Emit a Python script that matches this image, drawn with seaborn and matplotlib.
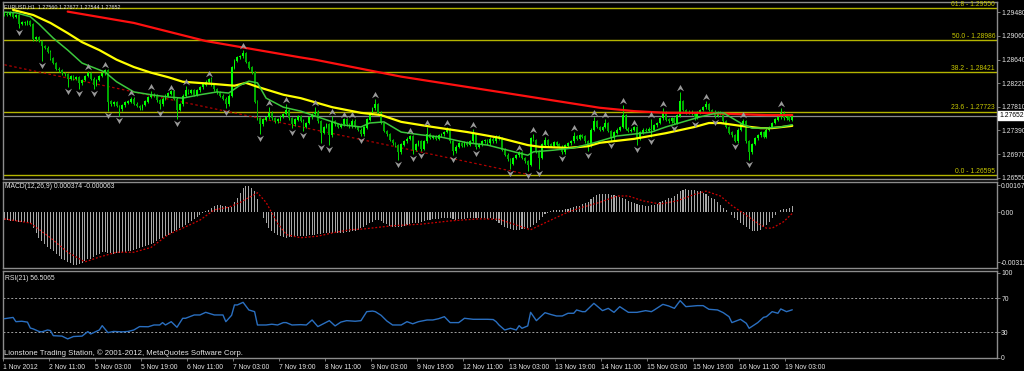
import numpy as np
import matplotlib
matplotlib.use("Agg")
import matplotlib.pyplot as plt
from matplotlib.path import Path
import matplotlib.transforms as mtrans
import seaborn as sns

# ---------------- data (prices in 1e-4 units above 1.2000) ----------------
first_open = 944
close_v = [
    945, 943, 947, 940, 942, 927, 930, 928, 932, 926,
    900, 903, 897, 888, 885, 878, 866, 858, 848, 845,
    840, 838, 830, 835, 830, 833, 822, 828, 835, 840,
    830, 820, 828, 835, 840, 845, 790, 785, 788, 782,
    776, 783, 788, 790, 795, 786, 782, 778, 784, 790,
    798, 802, 800, 792, 785, 795, 800, 804, 808, 795,
    775, 785, 800, 810, 805, 810, 802, 810, 815, 820,
    825, 830, 820, 812, 806, 800, 795, 785, 800, 850,
    862, 868, 870, 875, 860, 850, 842, 790, 760, 750,
    758, 762, 770, 760, 755, 758, 763, 768, 775, 760,
    750, 758, 764, 756, 745, 752, 762, 768, 772, 755,
    735, 745, 750, 730, 755, 750, 745, 750, 758, 750,
    746, 756, 745, 740, 732, 744, 758, 768, 778, 785,
    770, 752, 738, 732, 722, 716, 712, 700, 714, 720,
    724, 728, 705, 714, 720, 706, 720, 732, 726, 728,
    724, 730, 732, 736, 740, 720, 702, 710, 716, 712,
    718, 714, 720, 732, 710, 714, 720, 722, 716, 724,
    720, 728, 724, 705, 696, 688, 680, 690, 695, 700,
    690, 684, 678, 725, 722, 702, 690, 714, 722, 714,
    712, 718, 714, 710, 700, 712, 716, 720, 728, 724,
    730, 728, 720, 712, 740, 755, 745, 740, 745, 752,
    738, 725, 735, 740, 745, 765, 742, 738, 740, 745,
    725, 735, 740, 738, 742, 740, 748, 752, 760, 770,
    758, 755, 760, 752, 765, 790, 775, 770, 772, 768,
    762, 770, 775, 780, 785, 775, 772, 765, 770, 768,
    755, 745, 735, 730, 720, 740, 750, 755, 720, 700,
    715, 725, 730, 735, 728, 740, 745, 752, 758, 762,
    770, 760, 765, 758, 765.2]
default_wick = 2.5
wick_up = {29: 4, 35: 3, 44: 3, 51: 7, 58: 2, 63: 8, 71: 2, 83: 6, 92: 10, 98: 11,
           108: 8, 114: 9, 118: 2, 121: 3, 129: 10, 141: 3, 147: 13, 154: 5, 163: 9,
           179: 2, 184: 8, 188: 5, 198: 8, 205: 8, 209: 7, 215: 19, 219: 2, 225: 17,
           229: 9, 235: 17, 244: 6, 257: 4, 270: 9}
wick_dn = {5: 7, 13: 26, 22: 14, 26: 10, 31: 8, 36: 17, 40: 12, 54: 8, 60: 16, 77: 7,
           89: 18, 100: 7, 104: 7, 110: 18, 113: 17, 124: 3, 137: 14, 142: 8, 145: 4,
           156: 7, 164: 4, 176: 10, 182: 11, 186: 20, 194: 3, 203: 10, 211: 5, 220: 12,
           225: 13, 233: 2, 240: 5, 247: 5, 254: 2, 259: 14}

up_idx = [29, 35, 44, 51, 58, 63, 71, 83, 92, 98, 108, 114, 118, 121, 129, 141, 147, 154,
          163, 179, 184, 188, 198, 205, 209, 215, 219, 225, 229, 235, 244, 257, 270]
up_val = [851, 855, 805, 816, 814, 825, 839, 888, 787, 793, 787, 771, 766, 766, 802, 738,
          752, 752, 748, 708, 740, 734, 743, 770, 766, 791, 752, 766, 786, 814, 798, 766, 786]
dn_idx = [5, 13, 22, 26, 31, 36, 40, 54, 60, 77, 89, 100, 104, 110, 113, 124, 137, 142,
          145, 156, 164, 176, 182, 186, 194, 203, 211, 220, 225, 233, 240, 247, 254, 259]
dn_val = [913, 855, 809, 805, 805, 766, 757, 770, 752, 771, 725, 736, 731, 710, 706, 722,
          679, 690, 695, 688, 699, 663, 660, 663, 690, 695, 713, 706, 720, 743, 750, 753, 711, 679]

fast_idx = [0, 4, 9, 12, 17, 22, 27, 35, 39, 45, 51, 57, 62, 68, 74, 78, 82, 85, 88, 91,
            97, 103, 110, 117, 124, 127, 132, 138, 145, 152, 161, 168, 175, 182, 184, 191,
            198, 205, 213, 225, 230, 236, 242, 248, 250, 253, 257, 260, 265, 270, 274]
fast_val = [948, 947, 940, 927, 902, 881, 858, 842, 825, 807, 802, 798, 796, 802, 807, 805,
            819, 826, 823, 796, 780, 773, 761, 749, 745, 752, 754, 736, 731, 727, 717, 713,
            704, 695, 701, 704, 708, 717, 729, 736, 745, 754, 763, 770, 770, 761, 749, 743,
            743, 745, 749]
mid_idx = [3, 10, 16, 22, 27, 33, 39, 45, 51, 57, 62, 73, 80, 84, 88, 97, 103, 114, 124,
           131, 138, 149, 161, 172, 182, 186, 196, 203, 207, 219, 230, 240, 245, 249, 256,
           263, 267, 274]
mid_val = [952, 943, 929, 911, 895, 881, 864, 851, 841, 833, 825, 821, 818, 823, 816, 802,
           796, 780, 770, 766, 754, 745, 736, 726, 713, 710, 708, 711, 717, 724, 734, 745,
           752, 752, 747, 743, 743, 747]
slow_idx = [22, 45, 70, 103, 108, 138, 172, 207, 219, 230, 242, 253, 265, 274]
slow_val = [949, 929, 897, 868, 864, 834, 807, 779, 773, 770, 770, 768, 766, 766]

trend_idx = [0, 183]
trend_val = [855, 660]

fib_levels = [1.29550, 1.28986, 1.28421, 1.27723, 1.26595]
fib_names = ["61.8", "50.0", "38.2", "23.6", "0.0"]
last_price = 1.27652

# MACD main (histogram) and signal, in 1e-5 units
macd_hist = [
    -50, -52, -55, -55, -58, -60, -62, -62, -65, -70,
    -100, -130, -160, -180, -200, -215, -230, -245, -260, -275,
    -290, -300, -310, -320, -328, -330, -325, -315, -305, -295,
    -290, -280, -270, -260, -250, -248, -252, -255, -258, -255,
    -252, -250, -248, -245, -240, -235, -228, -222, -215, -210,
    -205, -198, -190, -180, -170, -160, -150, -140, -128, -118,
    -110, -100, -90, -80, -68, -55, -42, -30, -18, -5,
    5, 15, 25, 35, 42, 45, 40, 35, 30, 30,
    60, 90, 120, 150, 160, 160, 150, 130, 80, 0,
    -40, -70, -100, -120, -130, -140, -150, -155, -160, -158,
    -155, -152, -150, -150, -148, -150, -145, -140, -140, -135,
    -135, -130, -132, -130, -128, -130, -132, -130, -128, -125,
    -125, -120, -115, -110, -100, -90, -80, -70, -60, -52,
    -50, -55, -65, -75, -85, -90, -95, -95, -90, -85,
    -80, -75, -70, -68, -65, -60, -55, -50, -48, -45,
    -45, -42, -40, -40, -38, -40, -45, -48, -46, -44,
    -42, -40, -38, -36, -35, -36, -38, -40, -42, -40,
    -45, -55, -70, -80, -90, -100, -105, -110, -112, -110,
    -108, -105, -100, -90, -80, -70, -50, -30, -15, -5,
    5, 10, 12, 15, 15, 18, 20, 25, 30, 35,
    40, 48, 55, 65, 80, 95, 105, 110, 112, 110,
    110, 108, 105, 100, 95, 88, 80, 70, 60, 55,
    50, 45, 42, 40, 40, 42, 45, 50, 60, 70,
    78, 85, 90, 100, 115, 130, 140, 142, 140, 138,
    135, 132, 128, 120, 112, 100, 90, 80, 65, 45,
    25, 10, 0, -20, -35, -50, -65, -80, -95, -105,
    -115, -120, -118, -110, -95, -80, -60, -40, -20, 0,
    10, 18, 22, 28, 37]
sig_idx = [0, 9, 16, 22, 28, 33, 39, 45, 51, 57, 62, 68, 73, 78, 82, 88, 91, 95, 98, 103,
           109, 114, 120, 125, 135, 145, 155, 165, 172, 183, 190, 196, 201, 207, 213, 217,
           222, 228, 234, 240, 244, 249, 253, 258, 262, 265, 267, 271, 274]
sig_val = [-43, -68, -160, -250, -310, -280, -250, -250, -220, -140, -100, -50, 14, 30, 60,
           120, 60, -70, -140, -160, -150, -130, -110, -105, -85, -75, -55, -42, -45, -110,
           -50, 0, 30, 60, 100, 100, 70, 50, 70, 110, 130, 100, 40, -20, -70, -100, -100,
           -60, -8]

rsi_idx = [0, 3, 4, 6, 8, 9, 10, 12, 13, 15,
           16, 17, 20, 22, 24, 27, 29, 30, 33, 34,
           36, 38, 41, 43, 45, 47, 50, 52, 54, 55,
           56, 58, 60, 62, 63, 66, 68, 70, 73, 76,
           77, 79, 80, 81, 83, 85, 87, 88, 91, 93,
           95, 97, 98, 100, 103, 105, 107, 109, 113, 115,
           117, 119, 122, 124, 126, 128, 129, 131, 133, 135,
           138, 140, 142, 144, 147, 149, 151, 153, 155, 158,
           160, 163, 168, 170, 171, 172, 174, 176, 178, 179,
           180, 182, 183, 185, 188, 190, 192, 194, 196, 198,
           199, 201, 202, 205, 208, 210, 212, 214, 217, 220,
           223, 225, 226, 229, 231, 233, 235, 237, 241, 243,
           245, 248, 250, 252, 253, 256, 258, 259, 262, 264,
           265, 267, 269, 270, 272, 274]
rsi_val = [46, 47.5, 42.5, 43, 42, 35, 34, 31, 30.5, 32.7,
           32, 26, 25.5, 22.2, 25, 25.5, 30.8, 28, 32.7, 37.8,
           29.6, 31, 30.5, 31, 32.7, 36.7, 36.5, 38.6, 38.6, 41.4,
           38.6, 42.5, 35.9, 46.5, 46.5, 50.4, 50.4, 53.5, 50.4, 50.4,
           42.5, 50, 62.2, 62.2, 65.3, 56.3, 54.3, 38.6, 38.6, 39.5,
           38.6, 41.4, 41.4, 38.6, 39, 38.6, 44.5, 36.7, 43.7, 37.5,
           42, 43.7, 43, 43.7, 54.3, 55, 54.3, 50, 43.3, 38.6,
           38.6, 42.5, 40, 42.5, 44.5, 44.5, 46, 48.4, 41.4, 41.4,
           46.5, 45.3, 45.3, 45, 42.5, 38.6, 32.7, 34.7, 32.7, 37.8,
           34.7, 37.5, 53.5, 43.7, 53.1, 51, 49.2, 49.2, 52.4, 52.4,
           56.3, 54.3, 54.3, 64.1, 55.5, 58.2, 53.5, 60.2, 53.5, 53.5,
           55.5, 54.3, 56.3, 62.9, 61, 58.2, 67.3, 60.2, 61.4, 61.4,
           57.1, 56.3, 53.1, 48.4, 41.4, 45.3, 40.6, 34.7, 41.4, 47.6,
           48.4, 54.3, 52.4, 57.5, 54.3, 56.5]

date_idx = [0, 16, 32, 48, 64, 80, 96, 112, 128, 144, 160, 176, 192, 208, 224, 240, 256, 272]
date_labels = ["1 Nov 2012", "2 Nov 11:00", "5 Nov 03:00", "5 Nov 19:00", "6 Nov 11:00",
               "7 Nov 03:00", "7 Nov 19:00", "8 Nov 11:00", "9 Nov 03:00", "9 Nov 19:00",
               "12 Nov 11:00", "13 Nov 03:00", "13 Nov 19:00", "14 Nov 11:00",
               "15 Nov 03:00", "15 Nov 19:00", "16 Nov 11:00", "19 Nov 03:00"]
price_ticks = [1.29480, 1.29060, 1.28640, 1.28220, 1.27810, 1.27390, 1.26970, 1.26550]
macd_ticks = [0.00167, 0.0, -0.00312]
macd_tick_labels = ["0.00167", "0.00", "-0.00312"]
rsi_ticks = [100, 70, 30, 0]

# ---------------- style ----------------
sns.set_theme(style="dark", rc={"axes.facecolor": "black", "figure.facecolor": "black",
                                 "axes.edgecolor": "#8c8c8c", "axes.grid": False})
plt.rcParams["font.family"] = ["Liberation Sans Narrow", "Liberation Sans", "DejaVu Sans"]
FS = 4.9
FS_HEAD = 3.9
FS_FOOT = 5.6
TXT = "#e6e6e6"
GRID = "#8c8c8c"

W, H = 1024, 371
fig = plt.figure(figsize=(W / 100, H / 100), dpi=100, facecolor="black")


def px_axes(x0, y0, x1, y1):
    return fig.add_axes([x0 / W, 1 - y1 / H, (x1 - x0) / W, (y1 - y0) / H])


ax_main = px_axes(3, 2, 997, 179)
ax_macd = px_axes(3, 182, 997, 268)
ax_rsi = px_axes(3, 271, 997, 358)
XLIM = (-0.5, 345.2)

for ax in (ax_main, ax_macd, ax_rsi):
    ax.set_facecolor("black")
    ax.set_xlim(*XLIM)
    for s in ax.spines.values():
        s.set_color(GRID)
        s.set_linewidth(1.0)
    ax.yaxis.tick_right()
    ax.tick_params(axis="y", which="both", direction="out", length=2, width=0.6,
                   colors=GRID, labelcolor=TXT, labelsize=FS, pad=1.0)
    ax.tick_params(axis="x", which="both", bottom=False, labelbottom=False)

# ---------------- main price panel ----------------
P = lambda v: 1.2 + np.asarray(v, dtype=float) / 1e4
n = len(close_v)
xs = np.arange(n)
c = P(close_v)
o = P([first_open] + close_v[:-1])
top = np.maximum(o, c)
bot = np.minimum(o, c)
hi = top + np.array([wick_up.get(i, default_wick) for i in range(n)]) / 1e4
lo = bot - np.array([wick_dn.get(i, default_wick) for i in range(n)]) / 1e4

ax_main.set_ylim(1.2653, 1.2966)
blend_main = mtrans.blended_transform_factory(ax_main.transAxes, ax_main.transData)

# fibonacci levels
for lvl, name in zip(fib_levels, fib_names):
    ax_main.axhline(lvl, color="#b4b400", lw=1.0, zorder=1)
    ax_main.text(0.998, lvl + 0.00005, f"{name} - {lvl:.5f}", transform=blend_main,
                 ha="right", va="bottom", color="#c8c800", fontsize=FS, zorder=6)
ax_main.axhline(last_price, color="#8a8a8a", lw=0.9, zorder=1)

# trend line (dotted red)
ax_main.plot(trend_idx, P(trend_val), color="#b00000", lw=0.9, ls=(0, (2, 2)), zorder=2)

# candles
up = c >= o
ax_main.vlines(xs, lo, hi, color="#00e000", lw=0.7, zorder=3)
ax_main.bar(xs[up], (top - bot)[up] + 0.00003, bottom=bot[up], width=0.65,
            color="#00ff00", linewidth=0, zorder=4)
ax_main.bar(xs[~up], (top - bot)[~up] + 0.00003, bottom=bot[~up], width=0.65,
            color="#00a800", linewidth=0, zorder=4)

# moving averages
sns.lineplot(x=slow_idx, y=P(slow_val), ax=ax_main, color="#ff1010", linewidth=1.6,
             estimator=None, sort=False, legend=False, zorder=5)
sns.lineplot(x=mid_idx, y=P(mid_val), ax=ax_main, color="#ffff00", linewidth=1.6,
             estimator=None, sort=False, legend=False, zorder=5)
sns.lineplot(x=fast_idx, y=P(fast_val), ax=ax_main, color="#3cc83c", linewidth=1.1,
             estimator=None, sort=False, legend=False, zorder=5)

# fractal arrows
up_arrow = Path([(0, 1), (1, -0.8), (0, -0.2), (-1, -0.8), (0, 1)],
                [Path.MOVETO, Path.LINETO, Path.LINETO, Path.LINETO, Path.CLOSEPOLY])
dn_arrow = Path([(0, -1), (1, 0.8), (0, 0.2), (-1, 0.8), (0, -1)],
                [Path.MOVETO, Path.LINETO, Path.LINETO, Path.LINETO, Path.CLOSEPOLY])
sns.scatterplot(x=up_idx, y=P(up_val), ax=ax_main, marker=up_arrow, s=26,
                color="#9a9a9a", linewidth=0, legend=False, zorder=6)
sns.scatterplot(x=dn_idx, y=P(dn_val), ax=ax_main, marker=dn_arrow, s=26,
                color="#9a9a9a", linewidth=0, legend=False, zorder=6)

ax_main.set_yticks(price_ticks)
ax_main.set_yticklabels([f"{t:.5f}" for t in price_ticks])
ax_main.text(1.002, last_price, f"{last_price:.5f}", transform=blend_main,
             ha="left", va="center", fontsize=FS, color="black",
             bbox=dict(boxstyle="square,pad=0.12", fc="white", ec="white"),
             clip_on=False, zorder=10)
ax_main.set_xlabel("")
ax_main.set_ylabel("")

# ---------------- MACD panel ----------------
ax_macd.set_ylim(-0.00348, 0.00187)
ax_macd.bar(xs, np.asarray(macd_hist) / 1e5, width=0.36, color="#a8a8a8", linewidth=0, zorder=2)
ax_macd.plot(sig_idx, np.asarray(sig_val) / 1e5, color="#d00000", lw=0.9, ls=(0, (1.5, 1.5)),
             zorder=3)
ax_macd.set_yticks(macd_ticks)
ax_macd.set_yticklabels(macd_tick_labels)
ax_macd.set_xlabel("")
ax_macd.set_ylabel("")

# ---------------- RSI panel ----------------
ax_rsi.set_ylim(-0.3, 102.2)
for lvl in (70, 30):
    ax_rsi.axhline(lvl, color="#a0a0a0", lw=0.7, ls=(0, (2, 2)), zorder=1)
sns.lineplot(x=rsi_idx, y=rsi_val, ax=ax_rsi, color="#2a6fc0", linewidth=1.0,
             estimator=None, sort=False, legend=False, zorder=3)
ax_rsi.set_yticks(rsi_ticks)
ax_rsi.set_yticklabels([str(t) for t in rsi_ticks])
ax_rsi.set_xticks(np.asarray(date_idx) - 0.4)
ax_rsi.set_xticklabels(date_labels)
ax_rsi.tick_params(axis="x", which="both", bottom=True, labelbottom=True, direction="out",
                   length=2.5, width=0.6, colors=GRID, labelcolor=TXT, labelsize=FS, pad=1.5)
for lab in ax_rsi.get_xticklabels():
    lab.set_ha("left")
ax_rsi.set_xlabel("")
ax_rsi.set_ylabel("")
ax_rsi.set_xlim(*XLIM)

# ---------------- texts ----------------
def ftext(x, y, s, size=FS, **kw):
    fig.text(x / W, 1 - y / H, s, fontsize=size, color=TXT, va="center", ha="left", **kw)


ftext(4, 6.5, "EURUSD,H1  1.27560 1.27677 1.27544 1.27652", size=FS_HEAD)
ftext(5, 187, "MACD(12,26,9) 0.000374 -0.000063")
ftext(5, 278, "RSI(21) 56.5065")
ftext(4, 353, "Lionstone Trading Station, \u00a9 2001-2012, MetaQuotes Software Corp.",
      size=FS_FOOT)

fig.savefig("out.png", dpi=100, facecolor="black")
